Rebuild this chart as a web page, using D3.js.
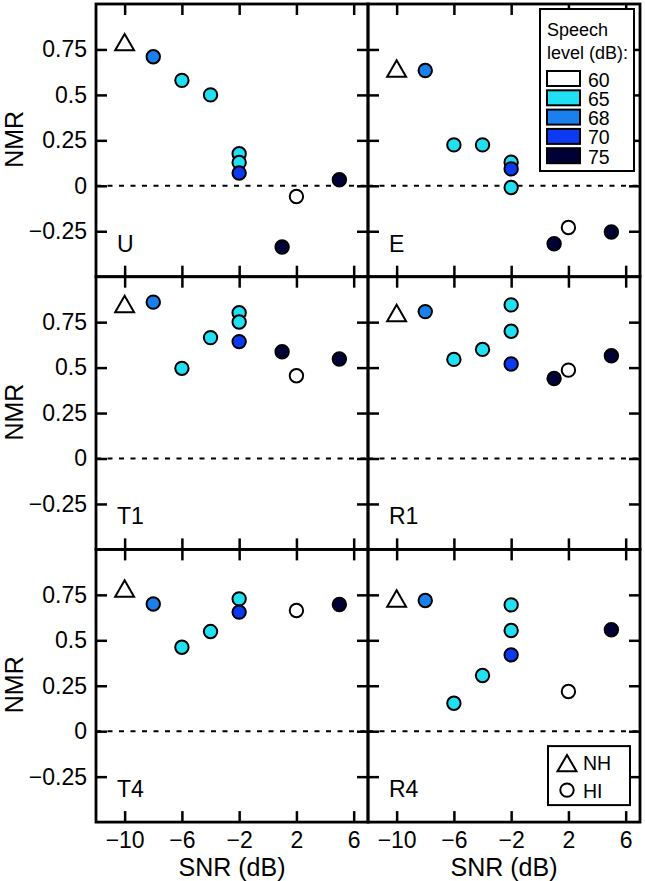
<!DOCTYPE html>
<html>
<head>
<meta charset="utf-8">
<script src="https://cdn.jsdelivr.net/npm/d3@7"></script>
<style>
  body { margin: 0; background: #fff; }
  svg { display: block; font-family: "Liberation Sans", Arial, sans-serif; }
</style>
</head>
<body>
<div id="plot"></div>
<script>
// Panel names, speech levels and tick labels
const panelNames = ["U", "E", "T1", "R1", "T4", "R4"];
const speechLevels = [60, 65, 68, 70, 75];
const levelColors = ["#ffffff", "#20e0f2", "#1a80ee", "#0c3af2", "#000036"];
const xTicks = [-10, -6, -2, 2, 6];
const xTickLabels = ["\u221210", "\u22126", "\u22122", "2", "6"];
const yTicks = [-0.25, 0, 0.25, 0.5, 0.75];
const yTickLabels = ["\u22120.25", "0", "0.25", "0.5", "0.75"];

// NH listeners (one value per panel, all at -10 dB SNR)
const nhSnr = -10;
const nhValues = [0.79, 0.645, 0.85, 0.80, 0.785, 0.73];

// HI listeners: [SNR (dB), speech level (dB), NMR]
const hiU  = [[-8, 68, 0.71], [-6, 65, 0.58], [-4, 65, 0.50], [-2, 65, 0.176], [-2, 65, 0.128], [-2, 70, 0.07], [1, 75, -0.337], [5, 75, 0.033], [2, 60, -0.059]];
const hiE  = [[-8, 68, 0.634], [-6, 65, 0.225], [-4, 65, 0.225], [-2, 65, 0.13], [-2, 70, 0.093], [-2, 65, -0.009], [1, 75, -0.319], [5, 75, -0.254], [2, 60, -0.229]];
const hiT1 = [[-8, 68, 0.86], [-6, 65, 0.496], [-4, 65, 0.665], [-2, 65, 0.802], [-2, 65, 0.751], [-2, 70, 0.643], [1, 75, 0.587], [5, 75, 0.547], [2, 60, 0.455]];
const hiR1 = [[-8, 68, 0.808], [-6, 65, 0.545], [-4, 65, 0.60], [-2, 65, 0.845], [-2, 65, 0.70], [-2, 70, 0.52], [1, 75, 0.44], [5, 75, 0.565], [2, 60, 0.486]];
const hiT4 = [[-8, 68, 0.70], [-6, 65, 0.462], [-4, 65, 0.548], [-2, 65, 0.728], [-2, 70, 0.655], [5, 75, 0.697], [2, 60, 0.664]];
const hiR4 = [[-8, 68, 0.719], [-6, 65, 0.154], [-4, 65, 0.306], [-2, 65, 0.695], [-2, 65, 0.554], [-2, 70, 0.42], [5, 75, 0.558], [2, 60, 0.218]];
const hiData = [hiU, hiE, hiT1, hiR1, hiT4, hiR4];

// Dimensions
const width = 645, height = 881;
const plotLeft = 96, plotTop = 4;
const panelW = 272, panelH = 272.7;

const svg = d3.select("#plot")
    .append("svg")
    .attr("width", width)
    .attr("height", height);

svg.append("rect").attr("width", width).attr("height", height).attr("fill", "#fff");

// Scales shared by all panels
const x = d3.scaleLinear().domain([-12, 7]).range([0, panelW]);
const y = d3.scaleLinear().domain([-0.5, 1]).range([panelH, 0]);
const color = d3.scaleOrdinal().domain(speechLevels).range(levelColors);

// Triangle marker, shifted so its bounding box is centred on the point
const triSize = 155;
const triShift = Math.sqrt(triSize / (3 * Math.sqrt(3))) / 2;
const triangle = d3.symbol().type(d3.symbolTriangle).size(triSize);

function styleAxis(g) {
    g.select(".domain").remove();
    g.attr("font-family", null).attr("font-size", 23);
    g.selectAll(".tick line").attr("stroke", "#000").attr("stroke-width", 2.5);
    g.selectAll(".tick text").attr("fill", "#000");
}

panelNames.forEach((name, i) => {
    const col = i % 2, row = Math.floor(i / 2);
    const g = svg.append("g")
        .attr("transform", `translate(${plotLeft + col * panelW},${plotTop + row * panelH})`);

    // Dashed zero line
    g.append("line")
        .attr("x1", 0).attr("x2", panelW)
        .attr("y1", y(0)).attr("y2", y(0))
        .attr("stroke", "#000")
        .attr("stroke-width", 2)
        .attr("stroke-dasharray", "5,6.5");

    // Inward ticks on all four sides
    g.append("g")
        .call(d3.axisLeft(y).tickValues(yTicks).tickSize(-11).tickPadding(9)
            .tickFormat(d => col === 0 ? yTickLabels[yTicks.indexOf(d)] : ""))
        .call(styleAxis);
    g.append("g")
        .attr("transform", `translate(${panelW},0)`)
        .call(d3.axisRight(y).tickValues(yTicks).tickSize(-11).tickFormat(""))
        .call(styleAxis);
    g.append("g")
        .call(d3.axisTop(x).tickValues(xTicks).tickSize(-11).tickFormat(""))
        .call(styleAxis);
    g.append("g")
        .attr("transform", `translate(0,${panelH})`)
        .call(d3.axisBottom(x).tickValues(xTicks).tickSize(-11).tickPadding(10)
            .tickFormat(d => row === 2 ? xTickLabels[xTicks.indexOf(d)] : ""))
        .call(styleAxis);

    // Frame
    g.append("rect")
        .attr("width", panelW)
        .attr("height", panelH)
        .attr("fill", "none")
        .attr("stroke", "#000")
        .attr("stroke-width", 2.8);

    // Panel label
    g.append("text")
        .attr("x", 21)
        .attr("y", panelH - 25)
        .attr("font-size", 23)
        .text(name);

    // HI points
    g.selectAll("circle.hi")
        .data(hiData[i])
        .join("circle")
        .attr("class", "hi")
        .attr("cx", d => x(d[0]))
        .attr("cy", d => y(d[2]))
        .attr("r", 6.7)
        .attr("fill", d => color(d[1]))
        .attr("stroke", "#000")
        .attr("stroke-width", 2);

    // NH point
    g.append("path")
        .attr("d", triangle)
        .attr("transform", `translate(${x(nhSnr)},${y(nhValues[i]) + triShift})`)
        .attr("fill", "none")
        .attr("stroke", "#000")
        .attr("stroke-width", 2);

    // Y axis label
    if (col === 0) {
        g.append("text")
            .attr("text-anchor", "middle")
            .attr("transform", `translate(${23 - plotLeft},${panelH / 2 - 1}) rotate(-90)`)
            .attr("font-size", 25)
            .text("NMR");
    }

    // X axis label
    if (row === 2) {
        g.append("text")
            .attr("text-anchor", "middle")
            .attr("x", panelW / 2)
            .attr("y", panelH + 54)
            .attr("font-size", 25)
            .text("SNR (dB)");
    }

    // Speech level legend
    if (i === 1) {
        const lg = g.append("g").attr("transform", "translate(172,5)");
        lg.append("rect")
            .attr("width", 94).attr("height", 162)
            .attr("fill", "#fff").attr("stroke", "#000").attr("stroke-width", 2);
        lg.append("text").attr("x", 7).attr("y", 27).attr("font-size", 18).text("Speech");
        lg.append("text").attr("x", 7).attr("y", 50).attr("font-size", 18).text("level (dB):");
        const rows = lg.selectAll("g.entry")
            .data(speechLevels)
            .join("g")
            .attr("class", "entry")
            .attr("transform", (d, k) => `translate(7,${62 + k * 19.3})`);
        rows.append("rect")
            .attr("width", 33).attr("height", 15)
            .attr("fill", d => color(d))
            .attr("stroke", "#000").attr("stroke-width", 2);
        rows.append("text")
            .attr("x", 41).attr("y", 15.5)
            .attr("font-size", 19.5)
            .text(d => d);
    }

    // Listener group legend
    if (i === 5) {
        const lg = g.append("g").attr("transform", `translate(180,${panelH - 76})`);
        lg.append("rect")
            .attr("width", 82).attr("height", 59)
            .attr("fill", "#fff").attr("stroke", "#000").attr("stroke-width", 2);
        lg.append("path")
            .attr("d", triangle)
            .attr("transform", `translate(19,${17 + triShift})`)
            .attr("fill", "none").attr("stroke", "#000").attr("stroke-width", 2);
        lg.append("text").attr("x", 35).attr("y", 24).attr("font-size", 19.5).text("NH");
        lg.append("circle")
            .attr("cx", 19).attr("cy", 44).attr("r", 6.7)
            .attr("fill", "#fff").attr("stroke", "#000").attr("stroke-width", 2);
        lg.append("text").attr("x", 35).attr("y", 52).attr("font-size", 19.5).text("HI");
    }
});
</script>
</body>
</html>
